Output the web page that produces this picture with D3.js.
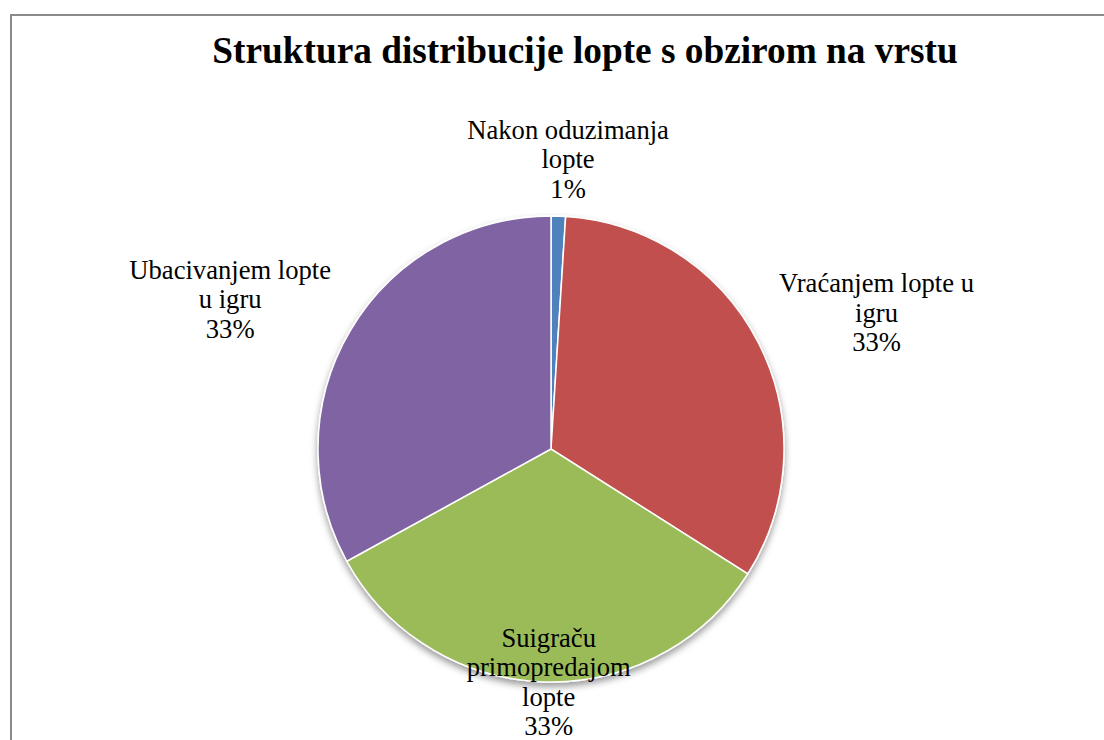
<!DOCTYPE html>
<html><head><meta charset="utf-8">
<script src="https://cdn.jsdelivr.net/npm/d3@7"></script>
<style>html,body{margin:0;padding:0;background:#fff;}svg{display:block;}</style>
</head><body>
<svg id="c" width="1104" height="740"></svg>
<script>
const title = "Struktura distribucije lopte s obzirom na vrstu";
const categories = ["Nakon oduzimanja lopte", "Vraćanjem lopte u igru", "Suigraču primopredajom lopte", "Ubacivanjem lopte u igru"];
const labelLines = [["Nakon oduzimanja", "lopte"], ["Vraćanjem lopte u", "igru"], ["Suigraču", "primopredajom", "lopte"], ["Ubacivanjem lopte", "u igru"]];
const values = [1, 33, 33, 33];
const percentLabels = ["1%", "33%", "33%", "33%"];
const colors = ["#4F81BD", "#C0504D", "#9BBB59", "#8064A2"];

const W = 1104, H = 740;
const cx = 551, cy = 449, R = 233;
const svg = d3.select("#c");
const serif = "'Liberation Serif','Times New Roman',Times,serif";

const defs = svg.append("defs");
const f = defs.append("filter").attr("id", "sh").attr("x", "-20%").attr("y", "-20%").attr("width", "140%").attr("height", "140%");
f.append("feDropShadow").attr("dx", 0).attr("dy", 4).attr("stdDeviation", 3.5).attr("flood-color", "#000").attr("flood-opacity", 0.4);

svg.append("rect").attr("x", 11).attr("y", 15).attr("width", W + 20).attr("height", H + 20)
  .attr("fill", "#fff").attr("stroke", "#8a8a8a").attr("stroke-width", 2);

svg.append("text").attr("x", 585).attr("y", 63).attr("text-anchor", "middle")
  .attr("font-family", serif).attr("font-weight", "bold")
  .attr("font-size", 37.3).attr("fill", "#000").text(title);

const pie = d3.pie().sort(null).value(d => d);
const arcs = pie(values);
const arc = d3.arc().innerRadius(0).outerRadius(R);

const g = svg.append("g").attr("transform", `translate(${cx},${cy})`);
g.append("g").attr("filter", "url(#sh)").selectAll("path").data(arcs).join("path")
  .attr("d", arc).attr("fill", (d, i) => colors[i]).attr("stroke", "#fff").attr("stroke-width", 1.5);

// label placement (layout factors, relative to slice mid-angle)
const labelR = [289, 353, 234, 353];
const labelShift = [[8, 0], [11, 25], [5, 0], [-17, 31]];
const lh = 29.5;
arcs.forEach((d, i) => {
  const a = (d.startAngle + d.endAngle) / 2;
  const r = labelR[i];
  const lx = r * Math.sin(a) + labelShift[i][0];
  const ly = -r * Math.cos(a) + labelShift[i][1];
  const lines = labelLines[i].concat([percentLabels[i]]);
  const t = g.append("text").attr("text-anchor", "middle")
    .attr("font-family", serif)
    .attr("font-size", 26.6).attr("fill", "#000");
  const y0 = ly - (lines.length - 1) * lh / 2 + 8;
  lines.forEach((s, k) => t.append("tspan").attr("x", lx).attr("y", y0 + k * lh).text(s));
});
</script>
</body></html>
